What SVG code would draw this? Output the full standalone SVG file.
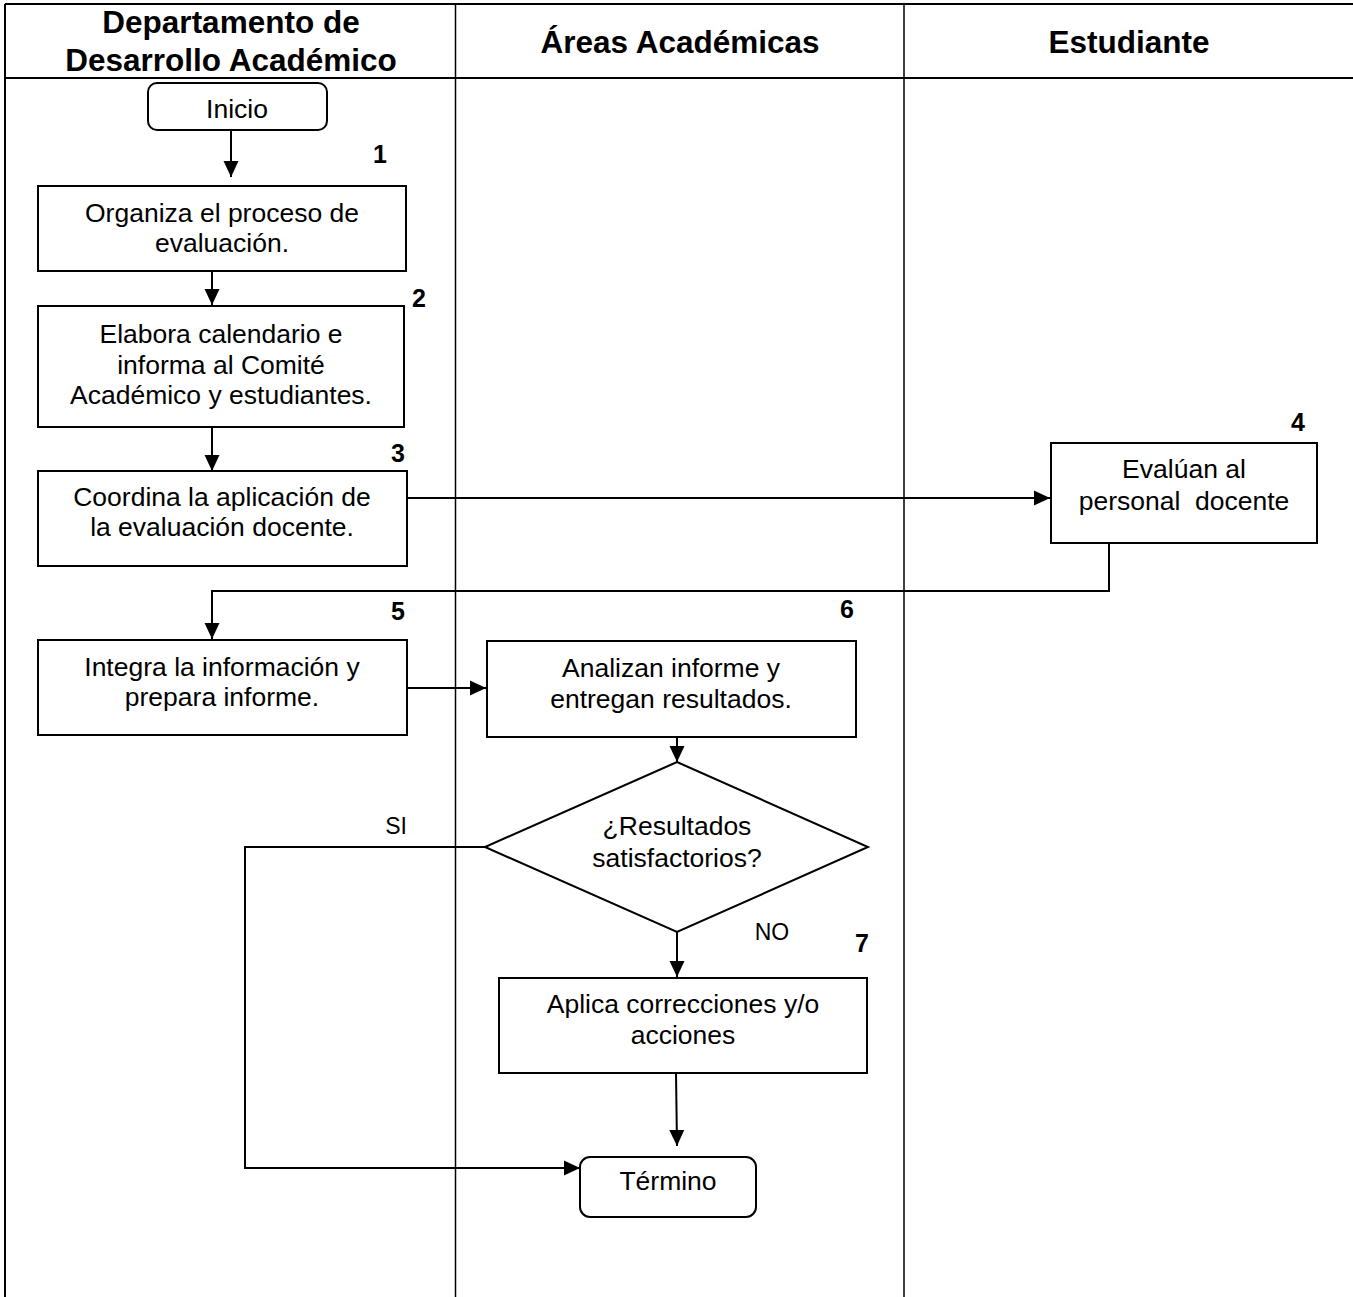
<svg xmlns="http://www.w3.org/2000/svg" width="1353" height="1297" viewBox="0 0 1353 1297">
<style>
.grid{stroke:#000;stroke-width:2;fill:none}
.box{fill:#fff;stroke:#000;stroke-width:2}
.con{stroke:#000;stroke-width:2;fill:none}
.hd{font-family:"Liberation Sans",Arial,sans-serif;font-weight:bold;font-size:31.5px;text-anchor:middle;fill:#000}
.t{font-family:"Liberation Sans",Arial,sans-serif;font-size:26.5px;text-anchor:middle;fill:#000}
.n{font-family:"Liberation Sans",Arial,sans-serif;font-weight:bold;font-size:25px;text-anchor:middle;fill:#000}
.lb{font-family:"Liberation Sans",Arial,sans-serif;font-size:23px;text-anchor:middle;fill:#000}
</style>
<defs>
<marker id="ah" markerUnits="userSpaceOnUse" markerWidth="17" markerHeight="17" refX="16" refY="8.5" orient="auto" viewBox="0 0 17 17">
<path d="M0,1 L16,8.5 L0,16 z" fill="#000"/>
</marker>
</defs>
<rect width="1353" height="1297" fill="#fff"/>
<g id="table">
<line class="grid" x1="5" y1="4" x2="1353" y2="4"/>
<line class="grid" x1="5" y1="78" x2="1353" y2="78"/>
<line class="grid" x1="5" y1="4" x2="5" y2="1297"/>
<line class="grid" x1="455.5" y1="4" x2="455.5" y2="1297" style="stroke-width:1.5"/>
<line class="grid" x1="904" y1="4" x2="904" y2="1297" style="stroke-width:1.5"/>
<text class="hd" x="231" y="33">Departamento de</text>
<text class="hd" x="231" y="71">Desarrollo Académico</text>
<text class="hd" x="680" y="53">Áreas Académicas</text>
<text class="hd" x="1129" y="53">Estudiante</text>
</g>
<g id="connectors">
<line class="con" x1="231" y1="130" x2="231" y2="177" marker-end="url(#ah)"/>
<line class="con" x1="212" y1="271" x2="212" y2="305" marker-end="url(#ah)"/>
<line class="con" x1="212" y1="427" x2="212" y2="471" marker-end="url(#ah)"/>
<line class="con" x1="407" y1="498" x2="1050" y2="498" marker-end="url(#ah)"/>
<polyline class="con" points="1109,543 1109,591 212,591 212,639" marker-end="url(#ah)"/>
<line class="con" x1="407" y1="688" x2="486" y2="688" marker-end="url(#ah)"/>
<line class="con" x1="677" y1="738" x2="677" y2="762" marker-end="url(#ah)"/>
<line class="con" x1="677" y1="932" x2="677" y2="977" marker-end="url(#ah)"/>
<line class="con" x1="676" y1="1073" x2="677" y2="1146" marker-end="url(#ah)"/>
<polyline class="con" points="485,847 245,847 245,1168 580,1168" marker-end="url(#ah)"/>
<text class="lb" x="396" y="834">SI</text>
<text class="lb" x="772" y="940">NO</text>
</g>
<g id="inicio">
<rect class="box" x="148" y="83" width="179" height="47" rx="9"/>
<text class="t" x="237" y="118">Inicio</text>
</g>
<g id="n1">
<text class="n" x="380" y="163">1</text>
<rect class="box" x="38" y="186" width="368" height="85"/>
<text class="t" x="222" y="222">Organiza el proceso de</text>
<text class="t" x="222" y="252">evaluación.</text>
</g>
<g id="n2">
<text class="n" x="419" y="307">2</text>
<rect class="box" x="38" y="306" width="366" height="121"/>
<text class="t" x="221" y="343">Elabora calendario e</text>
<text class="t" x="221" y="374">informa al Comité</text>
<text class="t" x="221" y="404">Académico y estudiantes.</text>
</g>
<g id="n3">
<text class="n" x="398" y="462">3</text>
<rect class="box" x="38" y="471" width="369" height="95"/>
<text class="t" x="222" y="506">Coordina la aplicación de</text>
<text class="t" x="222" y="536">la evaluación docente.</text>
</g>
<g id="n4">
<text class="n" x="1298" y="431">4</text>
<rect class="box" x="1051" y="443" width="266" height="100"/>
<text class="t" x="1184" y="478" xml:space="preserve">Evalúan al</text>
<text class="t" x="1184" y="510" xml:space="preserve">personal  docente</text>
</g>
<g id="n5">
<text class="n" x="398" y="620">5</text>
<rect class="box" x="38" y="640" width="369" height="95"/>
<text class="t" x="222" y="676">Integra la información y</text>
<text class="t" x="222" y="706">prepara informe.</text>
</g>
<g id="n6">
<text class="n" x="847" y="618">6</text>
<rect class="box" x="487" y="641" width="369" height="96"/>
<text class="t" x="671" y="677">Analizan informe y</text>
<text class="t" x="671" y="708">entregan resultados.</text>
</g>
<g id="decision">
<polygon class="box" points="677,762 868,847 677,932 485,847"/>
<text class="t" x="677" y="835">¿Resultados</text>
<text class="t" x="677" y="867">satisfactorios?</text>
</g>
<g id="n7">
<text class="n" x="862" y="952">7</text>
<rect class="box" x="499" y="978" width="368" height="95"/>
<text class="t" x="683" y="1013">Aplica correcciones y/o</text>
<text class="t" x="683" y="1044">acciones</text>
</g>
<g id="termino">
<rect class="box" x="580" y="1157" width="176" height="60" rx="10"/>
<text class="t" x="668" y="1190">Término</text>
</g>
</svg>
